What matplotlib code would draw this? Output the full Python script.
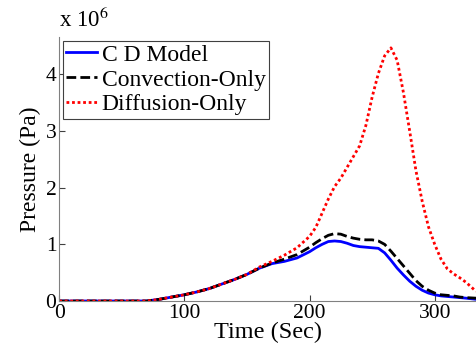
import numpy as np
import matplotlib
matplotlib.use("Agg")
import matplotlib.pyplot as plt

# time (s) and pressure in units of 1e6 Pa
time = [0, 70, 80, 90, 100, 110, 120, 130, 140, 150, 160, 170, 180, 190, 200,
        205, 210, 215, 220, 225, 230, 235, 240, 245, 250, 255, 260, 265, 270,
        275, 280, 285, 290, 295, 300, 305, 310, 315, 320, 325, 333]

cd_model = [0, 0, 0.03, 0.07, 0.11, 0.16, 0.22, 0.30, 0.38, 0.47, 0.58, 0.66,
            0.70, 0.76, 0.87, 0.94, 1.00, 1.05, 1.06, 1.05, 1.02, 0.98, 0.96,
            0.95, 0.94, 0.93, 0.85, 0.72, 0.58, 0.46, 0.35, 0.26, 0.19, 0.14,
            0.11, 0.09, 0.08, 0.07, 0.06, 0.05, 0.03]

convection = [0, 0, 0.03, 0.07, 0.11, 0.16, 0.22, 0.30, 0.38, 0.47, 0.58, 0.67,
              0.74, 0.82, 0.95, 1.03, 1.10, 1.16, 1.19, 1.18, 1.14, 1.11, 1.09,
              1.08, 1.08, 1.06, 1.00, 0.88, 0.75, 0.62, 0.49, 0.36, 0.26, 0.19,
              0.14, 0.11, 0.10, 0.09, 0.07, 0.06, 0.05]

diffusion = [0, 0, 0.03, 0.07, 0.11, 0.16, 0.22, 0.30, 0.38, 0.47, 0.60, 0.70,
             0.81, 0.94, 1.14, 1.30, 1.55, 1.80, 2.02, 2.17, 2.36, 2.55, 2.74,
             3.10, 3.60, 4.02, 4.33, 4.47, 4.25, 3.68, 3.00, 2.30, 1.76, 1.31,
             1.00, 0.74, 0.57, 0.48, 0.41, 0.33, 0.17]

labels = ["C D Model", "Convection-Only", "Diffusion-Only"]

plt.rcParams["font.family"] = "Liberation Serif"
plt.rcParams["mathtext.fontset"] = "stix"

fig = plt.figure(figsize=(4.77, 3.5), dpi=100)
ax = fig.add_axes([0.124, 0.14, 0.874, 0.754])

ax.plot(time, cd_model, color="#0000ff", lw=2, label=labels[0])
ax.plot(time, convection, color="black", lw=2, ls=(0, (3.5, 1.5)), label=labels[1])
ax.plot(time, diffusion, color="#ff0000", lw=2, ls=(0, (1, 1)), label=labels[2])

ax.set_xlim(0, 333)
ax.set_ylim(0, 4.66)
ax.set_xticks([0, 100, 200, 300])
ax.set_yticks([0, 1, 2, 3, 4])

for side in ["top", "right"]:
    ax.spines[side].set_visible(False)
for side in ["left", "bottom"]:
    ax.spines[side].set_color("#808080")
ax.tick_params(direction="in", length=4, color="#404040", labelsize=15.5, pad=2)

ax.set_xlabel("Time (Sec)", fontsize=17.5, labelpad=-1)
ax.set_ylabel("Pressure (Pa)", fontsize=17, labelpad=3)
ax.text(0.0, 1.02, r"x 10$^{6}$", transform=ax.transAxes, fontsize=16.5,
        ha="left", va="bottom")

leg = ax.legend(loc="upper left", fontsize=17, fancybox=False, framealpha=1,
                edgecolor="#404040", borderpad=0.15, handlelength=1.3,
                handletextpad=0.2, labelspacing=0.14, borderaxespad=0.15)
leg.get_frame().set_linewidth(0.8)

fig.savefig("out.png", dpi=100)
